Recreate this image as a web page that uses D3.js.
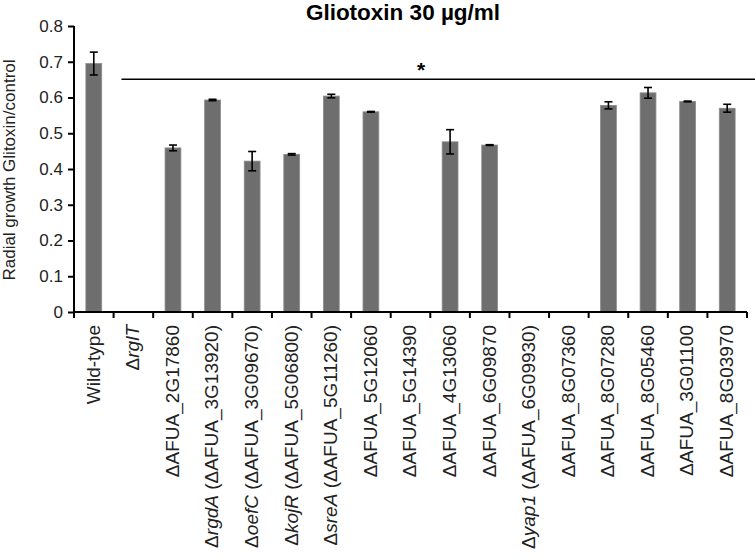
<!DOCTYPE html>
<html>
<head>
<meta charset="utf-8">
<title>Gliotoxin 30 µg/ml</title>
<script src="https://d3js.org/d3.v7.min.js"></script>
<style>
  body { margin: 0; background: #fff; }
  text { font-family: "Liberation Sans", Arial, sans-serif; }
</style>
</head>
<body>
<div id="chart"></div>
<script>
// label = [italic gene name or "", rest of label]
var labels = [
  ["", "Wild-type"],
  ["rglT", ""],
  ["", "AFUA_2G17860"],
  ["rgdA", " (\u0394AFUA_3G13920)"],
  ["oefC", " (\u0394AFUA_3G09670)"],
  ["kojR", " (\u0394AFUA_5G06800)"],
  ["sreA", " (\u0394AFUA_5G11260)"],
  ["", "AFUA_5G12060"],
  ["", "AFUA_5G14390"],
  ["", "AFUA_4G13060"],
  ["", "AFUA_6G09870"],
  ["yap1", " (\u0394AFUA_6G09930)"],
  ["", "AFUA_8G07360"],
  ["", "AFUA_8G07280"],
  ["", "AFUA_8G05460"],
  ["", "AFUA_3G01100"],
  ["", "AFUA_8G03970"]
];
var values = [0.695, 0, 0.459, 0.593, 0.422, 0.441, 0.604, 0.560, 0, 0.476, 0.467, 0, 0, 0.578, 0.613, 0.589, 0.570];
var errors = [0.032, 0, 0.008, 0.002, 0.027, 0.002, 0.005, 0.001, 0, 0.034, 0.001, 0, 0, 0.010, 0.015, 0.001, 0.011];
var yTicks = [0, 0.1, 0.2, 0.3, 0.4, 0.5, 0.6, 0.7, 0.8];
var sigLevel = 0.651;

var width = 755, height = 558;
var margin = {top: 26, right: 8, bottom: 246, left: 74};

var svg = d3.select("#chart").append("svg")
    .attr("width", width).attr("height", height);

var x = d3.scaleBand()
    .domain(d3.range(labels.length))
    .range([margin.left, width - margin.right])
    .paddingInner(0.6).paddingOuter(0.3);
var y = d3.scaleLinear().domain([0, 0.8]).range([height - margin.bottom, margin.top]);

// title
svg.append("text")
    .attr("x", 403).attr("y", 20)
    .attr("text-anchor", "middle")
    .style("font-size", "22.5px").style("font-weight", "bold")
    .text("Gliotoxin 30 \u00b5g/ml");

// bars
svg.selectAll("rect.bar")
  .data(values)
  .enter().append("rect")
    .attr("class", "bar")
    .attr("x", function(d, i) { return x(i); })
    .attr("width", x.bandwidth())
    .attr("y", function(d) { return y(d); })
    .attr("height", function(d) { return y(0) - y(d); })
    .style("fill", "#6e6e6e")
    .style("stroke", "#8c8c8c").style("stroke-width", 0.8);

// error bars
var eb = svg.selectAll("g.err")
  .data(values.map(function(v, i) { return {v: v, e: errors[i], i: i}; })
    .filter(function(d) { return d.v > 0; }))
  .enter().append("g").attr("class", "err")
    .style("stroke", "#000").style("stroke-width", 1.6);
eb.append("line")
    .attr("x1", function(d) { return x(d.i) + x.bandwidth() / 2; })
    .attr("x2", function(d) { return x(d.i) + x.bandwidth() / 2; })
    .attr("y1", function(d) { return y(d.v + d.e); })
    .attr("y2", function(d) { return y(d.v - d.e); });
eb.selectAll("line.cap")
  .data(function(d) { return [d.v + d.e, d.v - d.e].map(function(v) { return {v: v, i: d.i}; }); })
  .enter().append("line").attr("class", "cap")
    .attr("x1", function(d) { return x(d.i) + x.bandwidth() / 2 - 4; })
    .attr("x2", function(d) { return x(d.i) + x.bandwidth() / 2 + 4; })
    .attr("y1", function(d) { return y(d.v); })
    .attr("y2", function(d) { return y(d.v); });

// significance line and star
svg.append("line")
    .attr("x1", x(1) - 4).attr("x2", width)
    .attr("y1", y(sigLevel)).attr("y2", y(sigLevel))
    .style("stroke", "#000").style("stroke-width", 1.3);
svg.append("text")
    .attr("x", 421).attr("y", y(sigLevel) - 2)
    .attr("text-anchor", "middle")
    .style("font-size", "21px").style("font-weight", "bold")
    .text("*");

// y axis
var yAxis = svg.append("g")
    .attr("transform", "translate(" + margin.left + ",0)")
    .call(d3.axisLeft(y).tickValues(yTicks).tickSize(6).tickPadding(5)
      .tickFormat(function(d) { return d === 0 ? "0" : d3.format(".1f")(d); }));
yAxis.selectAll("path, line").style("stroke", "#000").style("stroke-width", 2);
yAxis.select(".domain").attr("d", "M0," + y(0) + "V" + y(0.8));
yAxis.selectAll("text").style("font-size", "17px").style("fill", "#222")
    .style("font-family", "Liberation Sans, Arial, sans-serif");

// x axis
var xAxis = svg.append("g")
    .attr("transform", "translate(0," + y(0) + ")");
xAxis.append("line")
    .attr("x1", margin.left).attr("x2", width - margin.right)
    .style("stroke", "#000").style("stroke-width", 2);
xAxis.selectAll("line.tick")
  .data(d3.range(labels.length + 1))
  .enter().append("line").attr("class", "tick")
    .attr("x1", function(d) { return margin.left + (width - margin.right - margin.left) * d / labels.length; })
    .attr("x2", function(d) { return margin.left + (width - margin.right - margin.left) * d / labels.length; })
    .attr("y1", 0).attr("y2", 6)
    .style("stroke", "#000").style("stroke-width", 2);

var xl = xAxis.selectAll("text.lab")
  .data(labels)
  .enter().append("text").attr("class", "lab")
    .attr("transform", function(d, i) {
      return "translate(" + (x(i) + x.bandwidth() / 2 - 1) + ",13) rotate(-90)";
    })
    .attr("text-anchor", "end")
    .attr("dy", "0.36em")
    .style("font-size", "19px").style("fill", "#222");
xl.each(function(d, i) {
  var t = d3.select(this);
  if (i > 0) t.append("tspan").text("\u0394");
  if (d[0]) t.append("tspan").style("font-style", "italic").text(d[0]);
  if (d[1]) t.append("tspan").text(d[1]);
});

// y axis title
svg.append("text")
    .attr("transform", "translate(15,170) rotate(-90)")
    .attr("text-anchor", "middle")
    .style("font-size", "17px").style("fill", "#222")
    .text("Radial growth Glitoxin/control");
</script>
</body>
</html>
